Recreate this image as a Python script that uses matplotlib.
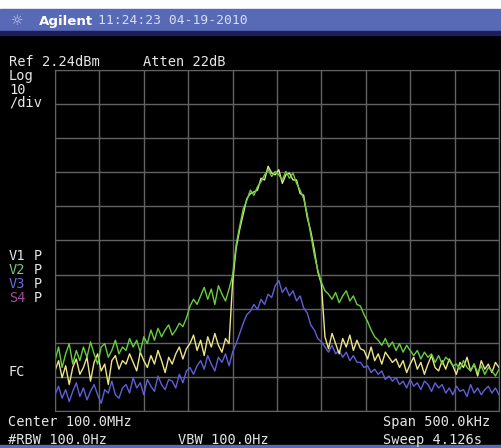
import numpy as np
import matplotlib
matplotlib.use("Agg")
import matplotlib.pyplot as plt
from matplotlib.patches import Rectangle

# Réglages de l'analyseur
ref_dbm = 2.24
db_div = 10
span_khz = 500

# Traces (dBm), 126 points de -250 kHz à +250 kHz
v1_yellow = [
    -86, -83, -88, -84.5, -90, -85, -82.5, -87,
    -85, -82, -89, -83.5, -81, -86, -84, -90, -83, -81.5, -85.5, -83,
    -84, -81, -83.5, -86, -80.5, -83, -85, -81.5, -84, -80, -83, -86.5, -82, -84,
    -81, -79, -82.5, -79.5,
    -78, -75.5, -80, -77, -81.5, -76, -79, -75, -78.5, -80.5, -76.5, -78,
    -60, -50, -44.5, -40, -35.5, -34, -33.5, -33, -29.5, -30, -26, -28, -28.5,
    -27, -31, -28.5, -28, -30, -30, -34, -34.5, -41, -45, -50.5, -57, -60.5,
    -76, -79.5, -75, -78, -81, -76.5, -79, -75.5, -80, -77, -79.5,
    -80, -82.5, -79, -83, -81, -84, -80.5, -82, -83.5,
    -82.5, -85, -83, -86.5, -84, -82, -85.5, -83.5, -87, -84, -81.5, -85, -86, -83, -85.5,
    -82.5, -84.5, -87, -83.5, -85, -82, -86, -84, -87.5, -83, -85.5, -84, -86.5, -83.5, -85,
]

v2_green = [
    -83, -79, -85, -81, -78, -84, -80, -83,
    -79, -82, -77.5, -81, -84, -79, -78, -82, -80, -77, -81, -79,
    -80, -76.5, -79, -77, -80.5, -76, -78,
    -74, -77, -73.5, -76, -74, -72.5, -75.5,
    -74, -72, -73, -70.5,
    -67, -65, -66.5,
    -64, -61.5, -65, -62, -66.5, -61, -63.5, -65.5, -62,
    -58, -49, -43.5, -38.5, -36, -33, -34.5, -32, -30.5, -28.5, -27, -29, -27.5,
    -28.5, -30, -27.5, -29.5, -28, -31, -33, -35.5, -40, -46, -52, -56.5, -60,
    -62.5, -63.5,
    -65, -63, -66, -64, -62.5, -65.5, -64, -66.5, -67,
    -69.5, -71.5, -74, -76,
    -77, -78.5, -76.5, -79, -77.5,
    -80, -78, -80.5, -78.5, -80,
    -81.5, -80, -82.5, -80.5, -82, -81,
    -83.5, -81.5, -84, -82, -83, -84.5,
    -84, -85.5, -83, -85, -86, -84,
    -86.5, -84.5, -87, -85, -86, -87.5, -85.5,
]

v3_blue = [
    -93, -90.5, -94, -91.5, -95, -92, -89.5, -93.5, -91, -94.5,
    -92, -90, -93, -95.5, -91.5, -92.5, -89, -93, -94, -91,
    -90, -92.5, -88, -91, -89.5, -93, -88.5, -90.5, -92, -87.5, -90, -91.5,
    -88.5, -89, -91, -87, -89.5,
    -86, -85, -87, -84.5,
    -83, -85.5, -81.5, -84, -86, -82, -83.5, -81, -84.5,
    -80.5, -78, -75, -72, -69.5, -68.5, -66.5, -68, -65, -66.5, -63.5, -64.5, -61,
    -59.5, -63, -61.5, -64, -62.5, -65.5, -64, -67.5, -69, -72.5, -74, -76.5, -77.5,
    -79, -80.5, -78.5, -81, -80, -82, -80.5, -83, -81.5, -83.5,
    -83.5, -85, -84.5, -86.5, -85.5, -87, -86, -88.5, -87.5, -89,
    -88, -90, -89, -91, -88.5, -90.5, -89.5, -91.5, -89, -90, -92, -89.5, -91, -90, -92.5,
    -91, -93, -90.5, -92, -91.5, -93.5, -90, -92.5, -91, -93, -91.5, -90.5, -92.5, -91, -93,
]

freq = np.linspace(-span_khz / 2, span_khz / 2, len(v2_green))

fig = plt.figure(figsize=(5.01, 4.48), dpi=100, facecolor="black")

# bandeau du haut
fig.patches.append(Rectangle((0, 0.980), 1, 0.02, transform=fig.transFigure, color="white", zorder=0))
fig.patches.append(Rectangle((0, 0.930), 1, 0.050, transform=fig.transFigure, color="#5869b6", zorder=0))
fig.patches.append(Rectangle((0, 0.922), 1, 0.008, transform=fig.transFigure, color="#1c1f5a", zorder=0))
fig.patches.append(Rectangle((0, 0.0), 1, 0.007, transform=fig.transFigure, color="#5869b6", zorder=0))

ax = fig.add_axes([55 / 501, 37 / 448, 444 / 501, 341 / 448], facecolor="black")
ax.plot(freq, v3_blue, color="#5f5fd8", lw=1.0)
ax.plot(freq, v1_yellow, color="#ece58a", lw=1.0)
ax.plot(freq, v2_green, color="#66d03c", lw=1.0)

ax.set_xlim(-span_khz / 2, span_khz / 2)
ax.set_ylim(ref_dbm - 10 * db_div, ref_dbm)
ax.set_xticks(np.arange(-250, 251, 50))
ax.set_yticks(np.arange(ref_dbm - 100, ref_dbm + 1, db_div))
ax.grid(True, color="#626262", lw=1)
ax.tick_params(length=0, labelbottom=False, labelleft=False)
for s in ax.spines.values():
    s.set_color("#626262")

mono = "DejaVu Sans Mono"
txt = "#e6e6e6"
H = 448


def put(x, y, s, c=txt, **kw):
    fig.text(x / 501, 1 - y / H, s, color=c, family=mono, fontsize=9.8, va="center", **kw)


# en-tête
fig.text(17 / 501, 1 - 21 / H, "\u263c", color="#c8d0f0", fontsize=10, va="center", ha="center")
fig.text(39 / 501, 1 - 21 / H, "Agilent", color="white", fontsize=9.6, weight="bold", va="center")
fig.text(98 / 501, 1 - 21 / H, "11:24:23 04-19-2010", color="#d8def5", family=mono,
         fontsize=9.4, va="center")

put(9, 62, "Ref 2.24dBm")
put(143, 62, "Atten 22dB")
put(9, 76, "Log")
put(9, 90, "10")
put(9, 103, "/div")
put(9, 256, "V1")
put(9, 270, "V2", c="#7cc87c")
put(9, 284, "V3", c="#6c6cd8")
put(9, 298, "S4", c="#a04c9c")
for yy in (256, 270, 284, 298):
    put(34, yy, "P")
put(9, 372, "FC")
put(8, 422, "Center 100.0MHz")
put(8, 440, "#RBW 100.0Hz")
put(178, 440, "VBW 100.0Hz")
put(383, 422, "Span 500.0kHz")
put(383, 440, "Sweep 4.126s")

plt.savefig("out.png", dpi=100, facecolor="black")
plt.close()
